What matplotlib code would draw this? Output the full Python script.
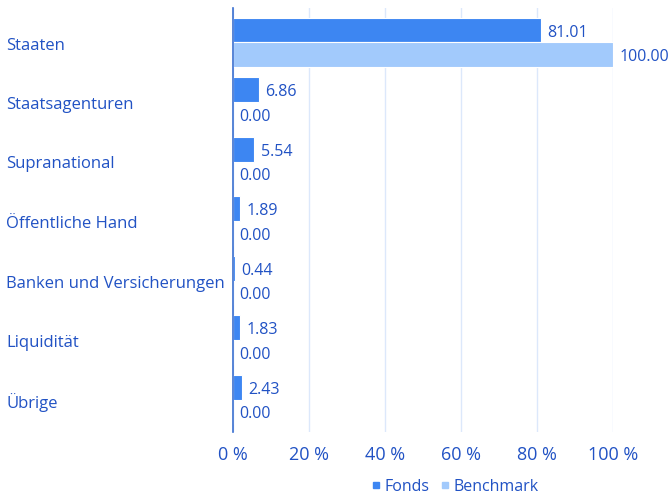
import matplotlib
matplotlib.use("Agg")
import matplotlib.pyplot as plt
from matplotlib.lines import Line2D
import matplotlib.transforms as mtransforms
import numpy as np

categories = ["Staaten", "Staatsagenturen", "Supranational", "Öffentliche Hand",
              "Banken und Versicherungen", "Liquidität", "Übrige"]
fonds = [81.01, 6.86, 5.54, 1.89, 0.44, 1.83, 2.43]
benchmark = [100.00, 0.00, 0.00, 0.00, 0.00, 0.00, 0.00]
xticks = [0, 20, 40, 60, 80, 100]
xticklabels = ["0 %", "20 %", "40 %", "60 %", "80 %", "100 %"]

plt.rcParams['font.family'] = ['Open Sans', 'DejaVu Sans']
TXT = "#2152c4"
C_F = "#3d86f2"
C_B = "#a2cafc"

W, H = 670, 498
fig = plt.figure(figsize=(W/100, H/100), dpi=100)
top_px, bot_px = 8, 432
ax = fig.add_axes([233/W, 1-bot_px/H, 380/W, (bot_px-top_px)/H])

n = len(categories)
y = np.arange(n)
h = 0.42
unit = 59.5
ax.barh(y - h/2, fonds, height=h, color=C_F, edgecolor="white", linewidth=0.8, zorder=3)
ax.barh(y + h/2, benchmark, height=h, color=C_B, edgecolor="white", linewidth=0.8, zorder=3)

dy = 2.5 / unit
for i in range(n):
    ax.text(fonds[i] + 1.7, y[i] - h/2 + dy, f"{fonds[i]:.2f}", va="center", ha="left",
            color=TXT, fontsize=11.5, zorder=4)
    ax.text(benchmark[i] + 1.7, y[i] + h/2 + dy, f"{benchmark[i]:.2f}", va="center", ha="left",
            color=TXT, fontsize=11.5, zorder=4, clip_on=False)

ax.set_ylim(6.5 + (bot_px - (399.5 + unit/2))/unit, -0.5 - ((42.5 - unit/2) - top_px)/unit)
ax.set_xlim(0, 100)
ax.set_xticks(xticks)
ax.set_xticklabels(xticklabels)
ax.set_yticks([])
trans = mtransforms.blended_transform_factory(fig.transFigure, ax.transData)
for i, c in enumerate(categories):
    ax.text(6/W, y[i] + 3/unit, c, transform=trans, ha="left", va="center", color=TXT,
            fontsize=12, clip_on=False)
ax.tick_params(axis="x", length=0, pad=10, labelsize=13, labelcolor=TXT)
ax.grid(axis="x", color="#dce8fb", linewidth=1, zorder=0)
for s in ["top", "right", "bottom"]:
    ax.spines[s].set_visible(False)
ax.spines["left"].set_color("#3a6fd0")
ax.spines["left"].set_linewidth(1.2)
ax.spines["left"].set_zorder(5)

handles = [Line2D([], [], marker="s", linestyle="none", markersize=4, color=C_F),
           Line2D([], [], marker="s", linestyle="none", markersize=4, color=C_B)]
leg = fig.legend(handles, ["Fonds", "Benchmark"], loc="center", bbox_to_anchor=(454/W, 1-487/H),
                 ncol=2, frameon=False, fontsize=11.5, handletextpad=0.1, columnspacing=0.6,
                 handlelength=0.8)
for t in leg.get_texts():
    t.set_color(TXT)

fig.savefig("out.png", dpi=100)
